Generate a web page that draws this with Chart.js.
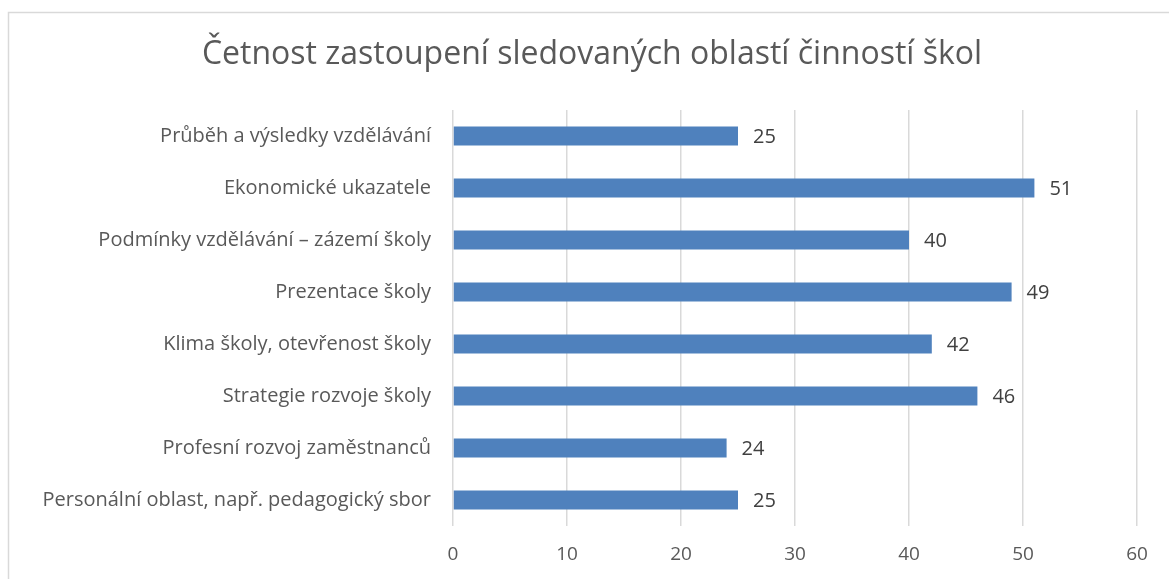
<!DOCTYPE html>
<html>
<head>
<meta charset="utf-8">
<script src="https://cdn.jsdelivr.net/npm/chart.js@4/dist/chart.umd.min.js"></script>
<style>
  html, body { margin: 0; padding: 0; background: #fff; }
  #wrap { width: 1169px; height: 579px; }
</style>
</head>
<body>
<div id="wrap"><canvas id="myChart" width="1169" height="579"></canvas></div>
<script>
const categories = [
    'Průběh a výsledky vzdělávání',
    'Ekonomické ukazatele',
    'Podmínky vzdělávání – zázemí školy',
    'Prezentace školy',
    'Klima školy, otevřenost školy',
    'Strategie rozvoje školy',
    'Profesní rozvoj zaměstnanců',
    'Personální oblast, např. pedagogický sbor'
];
const counts = [25, 51, 40, 49, 42, 46, 24, 25];
const xTicks = [0, 10, 20, 30, 40, 50, 60];
const chartTitle = 'Četnost zastoupení sledovaných oblastí činností škol';

const FONT = '"Open Sans", "Noto Sans", sans-serif';

// frame, white background and title
const framePlugin = {
    id: 'frame',
    beforeDraw(chart) {
        const c = chart.ctx;
        c.save();
        c.fillStyle = '#fff';
        c.fillRect(0, 0, chart.width, chart.height);
        c.strokeStyle = '#d9d9d9';
        c.lineWidth = 1.5;
        c.strokeRect(8.5, 12.5, 1300, 700);
        c.font = '32px ' + FONT;
        c.fillStyle = '#595959';
        c.textAlign = 'center';
        c.textBaseline = 'middle';
        c.fillText(chartTitle, 592, 55);
        c.restore();
    }
};

// value labels to the right of each bar
const valueLabels = {
    id: 'valueLabels',
    afterDatasetsDraw(chart) {
        const c = chart.ctx;
        c.save();
        c.font = '20px ' + FONT;
        c.fillStyle = '#404040';
        c.textAlign = 'left';
        c.textBaseline = 'middle';
        chart.getDatasetMeta(0).data.forEach((bar, i) => {
            c.fillText(String(counts[i]), bar.x + 15, bar.y + 1);
        });
        c.restore();
    }
};

const ctx = document.getElementById('myChart').getContext('2d');
const myChart = new Chart(ctx, {
    type: 'bar',
    data: {
        labels: categories,
        datasets: [{
            data: counts,
            backgroundColor: '#4f81bd',
            borderWidth: 0,
            barPercentage: 0.37,
            categoryPercentage: 1
        }]
    },
    options: {
        indexAxis: 'y',
        responsive: false,
        animation: false,
        layout: { padding: { left: 0, right: 32, top: 110, bottom: 0 } },
        plugins: {
            legend: { display: false },
            tooltip: { enabled: false },
            title: { display: false }
        },
        scales: {
            x: {
                min: 0,
                max: 60,
                afterBuildTicks(axis) {
                    axis.ticks = xTicks.map(v => ({ value: v }));
                },
                afterFit(axis) { axis.height = 53; },
                grid: { color: '#d9d9d9', lineWidth: 1.5, drawTicks: false },
                border: { display: false },
                ticks: {
                    color: '#595959',
                    padding: 17,
                    font: { family: FONT, size: 19 }
                }
            },
            y: {
                afterFit(axis) { axis.width = 453; },
                grid: { display: false },
                border: { display: false },
                ticks: {
                    color: '#595959',
                    padding: 14,
                    font: { family: FONT, size: 20 }
                }
            }
        }
    },
    plugins: [framePlugin, valueLabels]
});
</script>
</body>
</html>
